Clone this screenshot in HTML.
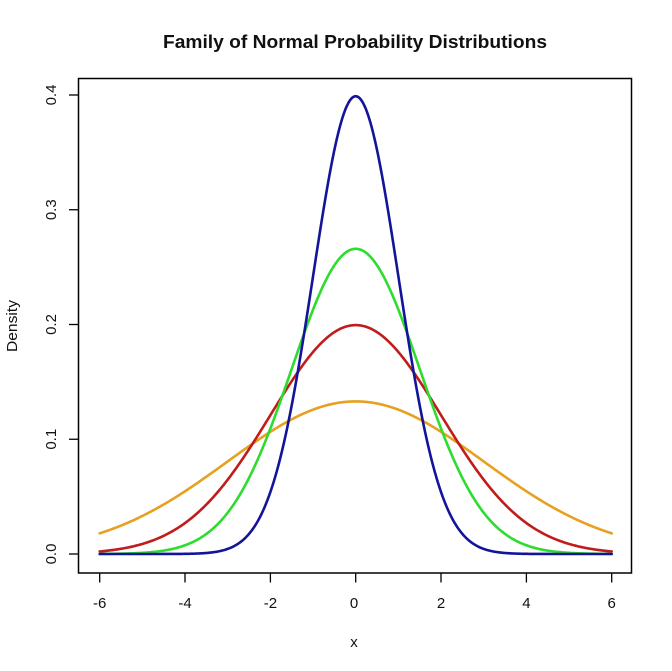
<!DOCTYPE html>
<html>
<head>
<meta charset="utf-8">
<style>
  html, body { margin: 0; padding: 0; background: #ffffff; }
  svg { display: block; }
  text { font-family: "Liberation Sans", Arial, sans-serif; fill: #111; }
</style>
</head>
<body>
<svg id="chart" xmlns="http://www.w3.org/2000/svg" width="672" height="671" viewBox="0 0 672 671">
  <rect x="0" y="0" width="672" height="671" fill="#ffffff"/>
  <!-- Title -->
  <text x="355" y="48" font-size="18" font-weight="bold" text-anchor="middle" textLength="384" lengthAdjust="spacingAndGlyphs">Family of Normal Probability Distributions</text>

  <!-- Curves -->
  <g id="curves" fill="none" stroke-width="2.6" stroke-linejoin="round" stroke-linecap="round"></g>

  <!-- Plot box -->
  <rect x="78.5" y="78.5" width="553" height="494.5" fill="none" stroke="#000" stroke-width="1.5"/>

  <!-- Y ticks -->
  <g stroke="#000" stroke-width="1.3">
    <line x1="69" y1="554" x2="78.5" y2="554"/>
    <line x1="69" y1="439.25" x2="78.5" y2="439.25"/>
    <line x1="69" y1="324.5" x2="78.5" y2="324.5"/>
    <line x1="69" y1="209.75" x2="78.5" y2="209.75"/>
    <line x1="69" y1="95" x2="78.5" y2="95"/>
  </g>
  <g font-size="15" text-anchor="middle">
    <text transform="translate(56,554) rotate(-90)">0.0</text>
    <text transform="translate(56,439.25) rotate(-90)">0.1</text>
    <text transform="translate(56,324.5) rotate(-90)">0.2</text>
    <text transform="translate(56,209.75) rotate(-90)">0.3</text>
    <text transform="translate(56,95) rotate(-90)">0.4</text>
  </g>

  <!-- X ticks -->
  <g stroke="#000" stroke-width="1.3">
    <line x1="99.7" y1="573" x2="99.7" y2="582.5"/>
    <line x1="185" y1="573" x2="185" y2="582.5"/>
    <line x1="270.4" y1="573" x2="270.4" y2="582.5"/>
    <line x1="355.7" y1="573" x2="355.7" y2="582.5"/>
    <line x1="441" y1="573" x2="441" y2="582.5"/>
    <line x1="526.4" y1="573" x2="526.4" y2="582.5"/>
    <line x1="611.7" y1="573" x2="611.7" y2="582.5"/>
  </g>
  <g font-size="15" text-anchor="middle">
    <text x="99.7" y="608">-6</text>
    <text x="185" y="608">-4</text>
    <text x="270.4" y="608">-2</text>
    <text x="354" y="608">0</text>
    <text x="441" y="608">2</text>
    <text x="526.4" y="608">4</text>
    <text x="611.7" y="608">6</text>
  </g>

  <!-- Axis labels -->
  <text x="354" y="647" font-size="15" text-anchor="middle">x</text>
  <text transform="translate(17,326) rotate(-90)" font-size="15" text-anchor="middle" textLength="52" lengthAdjust="spacingAndGlyphs">Density</text>
</svg>
<script>
(function(){
  var X = function(v){ return 355.7 + v*42.667; };
  var Y = function(d){ return 554 - d*1147.5; };
  var series = [
    {sd:3,   color:"#e8a020"},
    {sd:2,   color:"#c01c1c"},
    {sd:1.5, color:"#2edc2e"},
    {sd:1,   color:"#14149a"}
  ];
  var g = document.getElementById("curves");
  series.forEach(function(s){
    var pts = [];
    for (var i=0;i<=480;i++){
      var v = -6 + i*12/480;
      var d = Math.exp(-v*v/(2*s.sd*s.sd))/(s.sd*Math.sqrt(2*Math.PI));
      pts.push(X(v).toFixed(2)+","+Y(d).toFixed(2));
    }
    var p = document.createElementNS("http://www.w3.org/2000/svg","polyline");
    p.setAttribute("points", pts.join(" "));
    p.setAttribute("stroke", s.color);
    g.appendChild(p);
  });
})();
</script>
</body>
</html>
